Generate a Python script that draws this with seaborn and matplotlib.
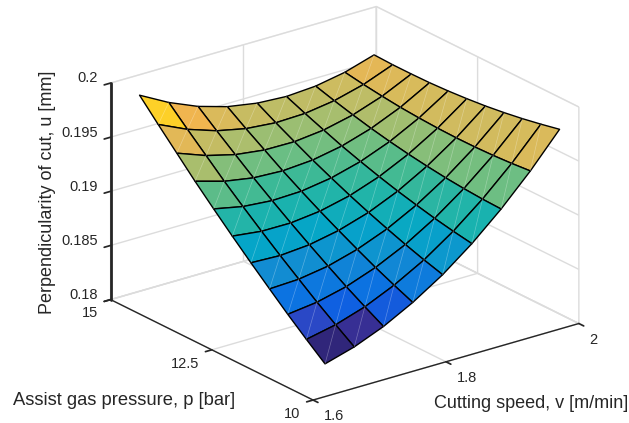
import numpy as np
import seaborn as sns
import matplotlib
matplotlib.use("Agg")
import matplotlib.pyplot as plt
from matplotlib.colors import LinearSegmentedColormap

# axis values
speed = [1.618, 1.662, 1.706, 1.750, 1.795, 1.839, 1.883, 1.927, 1.971]
pressure = [10.0, 10.46, 10.92, 11.37, 11.83, 12.29, 12.75, 13.21, 13.66, 14.12, 14.58]

# perpendicularity per pressure row, one value per speed
u_p0 = [.18302, .18381, .18492, .18636, .18813, .19022, .19264, .19538, .19845]
u_p1 = [.18443, .18500, .18588, .18710, .18864, .19051, .19270, .19522, .19807]
u_p2 = [.18589, .18623, .18689, .18788, .18921, .19085, .19282, .19511, .19773]
u_p3 = [.18740, .18752, .18795, .18872, .18982, .19124, .19298, .19505, .19745]
u_p4 = [.18896, .18885, .18907, .18961, .19048, .19167, .19320, .19504, .19721]
u_p5 = [.19057, .19024, .19023, .19054, .19119, .19216, .19346, .19508, .19703]
u_p6 = [.19223, .19167, .19144, .19153, .19196, .19270, .19377, .19517, .19689]
u_p7 = [.19393, .19315, .19269, .19256, .19276, .19328, .19413, .19530, .19680]
u_p8 = [.19569, .19469, .19400, .19365, .19362, .19392, .19454, .19549, .19677]
u_p9 = [.19749, .19626, .19535, .19477, .19452, .19460, .19500, .19572, .19677]
u_p10 = [.19934, .19789, .19675, .19595, .19548, .19532, .19550, .19600, .19683]

speed_ticks = [1.6, 1.8, 2.0]
speed_labels = ["1.6", "1.8", "2"]
pressure_ticks = [10, 12.5, 15]
pressure_labels = ["10", "12.5", "15"]
u_ticks = [0.18, 0.185, 0.19, 0.195, 0.2]
u_labels = ["0.18", "0.185", "0.19", "0.195", "0.2"]

# colours seen on the surface, low to high
color_pos = [0, .05, .086, .12, .176, .268, .364, .44, .52, .59, .668, .75, .81, .887, 1]
color_rgb = [(48, 38, 122), (55, 48, 150), (42, 72, 198), (15, 95, 225), (12, 115, 225),
             (18, 140, 210), (5, 165, 200), (25, 178, 175), (60, 185, 150), (110, 190, 130),
             (168, 190, 110), (215, 187, 92), (240, 180, 80), (253, 208, 40), (253, 225, 30)]

sns.set_theme(style="white")
plt.rcParams["font.family"] = ["Liberation Sans", "DejaVu Sans"]

cmap = LinearSegmentedColormap.from_list(
    "surf", [(p, tuple(c / 255 for c in rgb)) for p, rgb in zip(color_pos, color_rgb)])

V, P = np.meshgrid(speed, pressure)
U = np.array([u_p0, u_p1, u_p2, u_p3, u_p4, u_p5, u_p6, u_p7, u_p8, u_p9, u_p10])
face = cmap((U - U.min()) / (U.max() - U.min()))

fig = plt.figure(figsize=(6.29, 4.23), dpi=100)
ax = fig.add_axes([24.5 / 629, 2.5 / 423, 1, 1], projection="3d", proj_type="ortho",
                  computed_zorder=False)
ax.view_init(elev=22.2, azim=-127.3)
ax.set_box_aspect((1, 1, 0.7), zoom=1.21)

surf = ax.plot_surface(V, P, U, facecolors=face, rcount=20, ccount=20, shade=False,
                       edgecolor="black", linewidth=1.0, antialiased=True, zorder=2)
surf.set_clip_on(False)

# faint seams across the faces
for j in range(len(pressure) - 1):
    for i in range(len(speed) - 1):
        seam, = ax.plot([speed[i], speed[i + 1]], [pressure[j], pressure[j + 1]], [U[j, i], U[j + 1, i + 1]],
                        color="white", alpha=0.3, lw=0.5, zorder=3)
        seam.set_clip_on(False)

ax.set_xlim(1.6, 2, view_margin=0)
ax.set_ylim(10, 15, view_margin=0)
ax.set_zlim(0.18, 0.2, view_margin=0)
ax.set_xticks(speed_ticks, speed_labels, ha="left", va="center")
ax.set_yticks(pressure_ticks, pressure_labels, ha="right", va="center")
ax.set_zticks(u_ticks, u_labels, ha="right", va="baseline")
ax.tick_params(labelsize=10.5, colors="#262626")
ax.xaxis.set_tick_params(pad=0.2)
ax.yaxis.set_tick_params(pad=-0.5)
ax.zaxis.set_tick_params(pad=-3.7)

for axis in [ax.xaxis, ax.yaxis, ax.zaxis]:
    axis.pane.set_facecolor("white")
    axis.pane.set_edgecolor("#dcdcdc")
    axis._axinfo["grid"].update(color="#dcdcdc", linewidth=1.0)
    axis._axinfo["tick"].update(inward_factor=0.3, outward_factor=0.0)
    axis.line.set_color("#262626")
    axis.line.set_linewidth(1.0)
ax.zaxis.line.set_linewidth(2.0)

fig.text(47.5 / 629, 1 - 192 / 423, "Perpendicularity of cut, u [mm]", rotation=90,
         ha="center", va="center", fontsize=13, color="#262626")
fig.text(13 / 629, 1 - 400 / 423, "Assist gas pressure, p [bar]", ha="left", va="center",
         fontsize=13.2, color="#262626")
fig.text(434 / 629, 1 - 403 / 423, "Cutting speed, v [m/min]", ha="left", va="center",
         fontsize=13, color="#262626")

fig.savefig("out.png", dpi=100)
